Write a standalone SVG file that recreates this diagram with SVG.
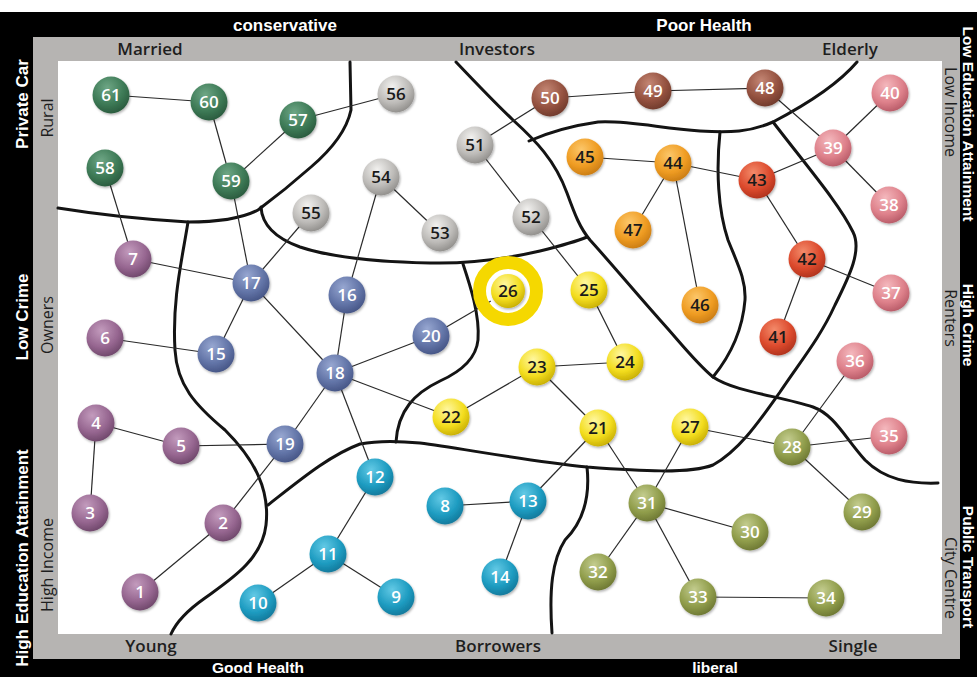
<svg xmlns="http://www.w3.org/2000/svg" width="977" height="677" viewBox="0 0 977 677">
<style>
.blk{font-family:"Liberation Sans",Arial,sans-serif;font-weight:bold;font-size:17px;fill:#fff;text-anchor:middle}
.blks{font-family:"Liberation Sans",Arial,sans-serif;font-weight:bold;font-size:15.5px;fill:#fff;text-anchor:middle}
.gry{font-family:"Open Sans","Noto Sans",sans-serif;font-weight:600;font-size:17px;fill:#1e1e1e;text-anchor:middle}
.gryr{font-family:"Open Sans","Noto Sans",sans-serif;font-weight:500;font-size:16px;fill:#1e1e1e;text-anchor:middle}
.bd{fill:none;stroke:#141414;stroke-width:3;stroke-linecap:round;stroke-linejoin:round}
.cn line{stroke:#2a2a2a;stroke-width:1.2}
.nd circle{stroke:none;filter:url(#sh)}
.nd text{font-family:"Open Sans","Noto Sans",sans-serif;font-weight:600;font-size:17px;text-anchor:middle;fill:#fff}
.dk text{fill:#1a1a1a}
.green circle{fill:url(#gGreen)}
.gray circle{fill:url(#gGray)}
.brown circle{fill:url(#gBrown)}
.orange circle{fill:url(#gOrange)}
.red circle{fill:url(#gRed)}
.pink circle{fill:url(#gPink)}
.purple circle{fill:url(#gPurple)}
.blue circle{fill:url(#gBlue)}
.cyan circle{fill:url(#gCyan)}
.yellow circle{fill:url(#gYellow)}
.olive circle{fill:url(#gOlive)}
</style>
<defs>
<filter id="sh" x="-30%" y="-30%" width="160%" height="160%"><feDropShadow dx="1" dy="1.5" stdDeviation="1.2" flood-color="#000" flood-opacity="0.3"/></filter>
<radialGradient id="gGreen" cx="0.4" cy="0.3" r="0.75"><stop offset="0" stop-color="#6ea685"/><stop offset="0.6" stop-color="#3d7a56"/><stop offset="1" stop-color="#28573b"/></radialGradient>
<radialGradient id="gGray" cx="0.4" cy="0.3" r="0.75"><stop offset="0" stop-color="#f2f1ef"/><stop offset="0.6" stop-color="#bdbbb8"/><stop offset="1" stop-color="#8c8a87"/></radialGradient>
<radialGradient id="gBrown" cx="0.4" cy="0.3" r="0.75"><stop offset="0" stop-color="#c48674"/><stop offset="0.6" stop-color="#955240"/><stop offset="1" stop-color="#6c382a"/></radialGradient>
<radialGradient id="gOrange" cx="0.4" cy="0.3" r="0.75"><stop offset="0" stop-color="#fcc76a"/><stop offset="0.6" stop-color="#ef9c22"/><stop offset="1" stop-color="#c67914"/></radialGradient>
<radialGradient id="gRed" cx="0.4" cy="0.3" r="0.75"><stop offset="0" stop-color="#f38a6a"/><stop offset="0.6" stop-color="#dc4a2d"/><stop offset="1" stop-color="#ab301b"/></radialGradient>
<radialGradient id="gPink" cx="0.4" cy="0.3" r="0.75"><stop offset="0" stop-color="#f4b8bd"/><stop offset="0.6" stop-color="#de818b"/><stop offset="1" stop-color="#b45764"/></radialGradient>
<radialGradient id="gPurple" cx="0.4" cy="0.3" r="0.75"><stop offset="0" stop-color="#c39bbd"/><stop offset="0.6" stop-color="#966690"/><stop offset="1" stop-color="#6b4467"/></radialGradient>
<radialGradient id="gBlue" cx="0.4" cy="0.3" r="0.75"><stop offset="0" stop-color="#97a7d1"/><stop offset="0.6" stop-color="#6274a7"/><stop offset="1" stop-color="#435282"/></radialGradient>
<radialGradient id="gCyan" cx="0.4" cy="0.3" r="0.75"><stop offset="0" stop-color="#62c9e5"/><stop offset="0.6" stop-color="#1e9cc1"/><stop offset="1" stop-color="#117597"/></radialGradient>
<radialGradient id="gYellow" cx="0.4" cy="0.3" r="0.75"><stop offset="0" stop-color="#fff7a0"/><stop offset="0.6" stop-color="#f3dd1e"/><stop offset="1" stop-color="#c4aa00"/></radialGradient>
<radialGradient id="gOlive" cx="0.4" cy="0.3" r="0.75"><stop offset="0" stop-color="#c3cc8e"/><stop offset="0.6" stop-color="#909d4b"/><stop offset="1" stop-color="#6a7431"/></radialGradient>
</defs>

<g id="frame">
<rect x="0" y="0" width="977" height="677" fill="#fff"/>
<rect x="0" y="12" width="977" height="665" fill="#000"/>
<rect x="33" y="37" width="927" height="622" fill="#b6b4b2"/>
<rect x="58" y="61" width="884" height="573" fill="#fff"/>
</g>

<g id="labels">
<text class="blk" x="285" y="31">conservative</text>
<text class="blk" x="704" y="31">Poor Health</text>
<text class="blks" x="258" y="673">Good Health</text>
<text class="blks" x="715" y="673">liberal</text>
<text class="gry" x="150" y="55">Married</text>
<text class="gry" x="497" y="55">Investors</text>
<text class="gry" x="850" y="55">Elderly</text>
<text class="gry" x="151" y="652">Young</text>
<text class="gry" x="498" y="652">Borrowers</text>
<text class="gry" x="853" y="652">Single</text>
<text class="blk" transform="translate(28,104) rotate(-90)">Private Car</text>
<text class="blk" transform="translate(28,317) rotate(-90)">Low Crime</text>
<text class="blk" transform="translate(28,558) rotate(-90)">High Education Attainment</text>
<text class="gryr" transform="translate(53,118) rotate(-90)">Rural</text>
<text class="gryr" transform="translate(53,325) rotate(-90)">Owners</text>
<text class="gryr" transform="translate(53,565) rotate(-90)">High Income</text>
<text class="gryr" transform="translate(945,112) rotate(90)">Low Income</text>
<text class="gryr" transform="translate(945,318) rotate(90)">Renters</text>
<text class="gryr" transform="translate(945,578) rotate(90)">City Centre</text>
<text class="blks" transform="translate(963,124) rotate(90)">Low Education Attainment</text>
<text class="blks" transform="translate(963,325) rotate(90)">High Crime</text>
<text class="blks" transform="translate(963,567) rotate(90)">Public Transport</text>
</g>

<g id="boundaries">
<path class="bd" d="M58,208 Q120,218 188,222 Q235,222 258,210 Q285,190 311,167 Q345,138 351,110 L350,62"/>
<path class="bd" d="M188,222 C182,260 172,300 175,350 C177,385 195,405 225,430 C255,460 270,490 266,525 C262,560 230,580 205,598 C185,612 175,625 171,634"/>
<path class="bd" d="M261,207 C262,225 275,238 300,247 C330,257 380,262 430,263 C470,264 510,258 540,251 C560,246 575,242 587,237"/>
<path class="bd" d="M463,264 C470,285 480,315 478,340 C476,360 460,372 440,381 C415,393 398,410 396,442"/>
<path class="bd" d="M268,505 C300,480 330,455 360,444 C380,440 400,441 420,443 C460,448 520,460 587,467 C640,471 690,474 713,465 C740,450 760,420 780,392 C800,362 820,338 835,305 C850,275 862,250 853,232 C840,205 810,170 773,122"/>
<path class="bd" d="M857,62 C840,82 815,100 773,122 C750,132 730,133 700,131 C660,128 625,120 598,122 C570,126 545,134 529,141"/>
<path class="bd" d="M720,132 C716,170 718,210 728,240 C738,265 746,280 745,300 C743,325 735,350 713,377"/>
<path class="bd" d="M456,62 C475,82 495,103 513,120 C535,140 555,160 567,193 C575,215 580,228 590,240 C610,262 635,292 660,320 C680,342 695,362 713,377 C735,392 780,396 813,407 C835,415 845,438 865,460 C885,480 910,484 938,483"/>
<path class="bd" d="M587,467 C590,495 585,520 565,540 C552,560 549,590 552,633"/>
</g>

<g class="cn" id="connectors">
<line x1="111" y1="95" x2="209" y2="102"/>
<line x1="209" y1="102" x2="231" y2="181"/>
<line x1="231" y1="181" x2="298" y2="120"/>
<line x1="298" y1="120" x2="396" y2="94"/>
<line x1="105" y1="168" x2="133" y2="259"/>
<line x1="231" y1="181" x2="251" y2="283"/>
<line x1="133" y1="259" x2="251" y2="283"/>
<line x1="251" y1="283" x2="311" y2="213"/>
<line x1="251" y1="283" x2="216" y2="354"/>
<line x1="251" y1="283" x2="335" y2="373"/>
<line x1="105" y1="338" x2="216" y2="354"/>
<line x1="381" y1="177" x2="347" y2="295"/>
<line x1="381" y1="177" x2="440" y2="233"/>
<line x1="347" y1="295" x2="335" y2="373"/>
<line x1="335" y1="373" x2="431" y2="336"/>
<line x1="431" y1="336" x2="508" y2="291"/>
<line x1="335" y1="373" x2="451" y2="417"/>
<line x1="335" y1="373" x2="285" y2="444"/>
<line x1="335" y1="373" x2="375" y2="477"/>
<line x1="451" y1="417" x2="537" y2="367"/>
<line x1="537" y1="367" x2="625" y2="362"/>
<line x1="537" y1="367" x2="598" y2="428"/>
<line x1="589" y1="290" x2="625" y2="362"/>
<line x1="531" y1="217" x2="589" y2="290"/>
<line x1="475" y1="145" x2="531" y2="217"/>
<line x1="475" y1="145" x2="550" y2="98"/>
<line x1="550" y1="98" x2="653" y2="91"/>
<line x1="653" y1="91" x2="765" y2="88"/>
<line x1="765" y1="88" x2="833" y2="148"/>
<line x1="833" y1="148" x2="890" y2="93"/>
<line x1="833" y1="148" x2="889" y2="205"/>
<line x1="833" y1="148" x2="757" y2="180"/>
<line x1="757" y1="180" x2="673" y2="163"/>
<line x1="673" y1="163" x2="585" y2="157"/>
<line x1="673" y1="163" x2="633" y2="230"/>
<line x1="673" y1="163" x2="700" y2="305"/>
<line x1="757" y1="180" x2="807" y2="259"/>
<line x1="807" y1="259" x2="778" y2="337"/>
<line x1="807" y1="259" x2="891" y2="293"/>
<line x1="96" y1="423" x2="181" y2="446"/>
<line x1="96" y1="423" x2="90" y2="513"/>
<line x1="181" y1="446" x2="285" y2="444"/>
<line x1="223" y1="523" x2="140" y2="592"/>
<line x1="223" y1="523" x2="285" y2="444"/>
<line x1="375" y1="477" x2="328" y2="554"/>
<line x1="328" y1="554" x2="258" y2="603"/>
<line x1="328" y1="554" x2="396" y2="597"/>
<line x1="445" y1="506" x2="528" y2="501"/>
<line x1="528" y1="501" x2="500" y2="577"/>
<line x1="528" y1="501" x2="598" y2="428"/>
<line x1="598" y1="428" x2="647" y2="503"/>
<line x1="690" y1="427" x2="647" y2="503"/>
<line x1="690" y1="427" x2="792" y2="447"/>
<line x1="792" y1="447" x2="855" y2="361"/>
<line x1="792" y1="447" x2="889" y2="436"/>
<line x1="792" y1="447" x2="862" y2="512"/>
<line x1="647" y1="503" x2="750" y2="532"/>
<line x1="647" y1="503" x2="598" y2="572"/>
<line x1="647" y1="503" x2="698" y2="597"/>
<line x1="698" y1="597" x2="826" y2="598"/>
</g>

<g id="highlight26"><circle cx="508" cy="291" r="28.5" fill="none" stroke="#f5d800" stroke-width="13"/><circle cx="508" cy="291" r="20" fill="#fff"/></g>

<g id="n1" class="nd purple"><circle cx="140" cy="592" r="18.5"/><text x="140" y="598">1</text></g>
<g id="n2" class="nd purple"><circle cx="223" cy="523" r="18.5"/><text x="223" y="529">2</text></g>
<g id="n3" class="nd purple"><circle cx="90" cy="513" r="18.5"/><text x="90" y="519">3</text></g>
<g id="n4" class="nd purple"><circle cx="96" cy="423" r="18.5"/><text x="96" y="429">4</text></g>
<g id="n5" class="nd purple"><circle cx="181" cy="446" r="18.5"/><text x="181" y="452">5</text></g>
<g id="n6" class="nd purple"><circle cx="105" cy="338" r="18.5"/><text x="105" y="344">6</text></g>
<g id="n7" class="nd purple"><circle cx="133" cy="259" r="18.5"/><text x="133" y="265">7</text></g>
<g id="n8" class="nd cyan"><circle cx="445" cy="506" r="18.5"/><text x="445" y="512">8</text></g>
<g id="n9" class="nd cyan"><circle cx="396" cy="597" r="18.5"/><text x="396" y="603">9</text></g>
<g id="n10" class="nd cyan"><circle cx="258" cy="603" r="18.5"/><text x="258" y="609">10</text></g>
<g id="n11" class="nd cyan"><circle cx="328" cy="554" r="18.5"/><text x="328" y="560">11</text></g>
<g id="n12" class="nd cyan"><circle cx="375" cy="477" r="18.5"/><text x="375" y="483">12</text></g>
<g id="n13" class="nd cyan"><circle cx="528" cy="501" r="18.5"/><text x="528" y="507">13</text></g>
<g id="n14" class="nd cyan"><circle cx="500" cy="577" r="18.5"/><text x="500" y="583">14</text></g>
<g id="n15" class="nd blue"><circle cx="216" cy="354" r="18.5"/><text x="216" y="360">15</text></g>
<g id="n16" class="nd blue"><circle cx="347" cy="295" r="18.5"/><text x="347" y="301">16</text></g>
<g id="n17" class="nd blue"><circle cx="251" cy="283" r="18.5"/><text x="251" y="289">17</text></g>
<g id="n18" class="nd blue"><circle cx="335" cy="373" r="18.5"/><text x="335" y="379">18</text></g>
<g id="n19" class="nd blue"><circle cx="285" cy="444" r="18.5"/><text x="285" y="450">19</text></g>
<g id="n20" class="nd blue"><circle cx="431" cy="336" r="18.5"/><text x="431" y="342">20</text></g>
<g id="n21" class="nd yellow dk"><circle cx="598" cy="428" r="18.5"/><text x="598" y="434">21</text></g>
<g id="n22" class="nd yellow dk"><circle cx="451" cy="417" r="18.5"/><text x="451" y="423">22</text></g>
<g id="n23" class="nd yellow dk"><circle cx="537" cy="367" r="18.5"/><text x="537" y="373">23</text></g>
<g id="n24" class="nd yellow dk"><circle cx="625" cy="362" r="18.5"/><text x="625" y="368">24</text></g>
<g id="n25" class="nd yellow dk"><circle cx="589" cy="290" r="18.5"/><text x="589" y="296">25</text></g>
<g id="n26" class="nd yellow dk"><circle cx="508" cy="291" r="17"/><text x="508" y="297">26</text></g>
<g id="n27" class="nd yellow dk"><circle cx="690" cy="427" r="18.5"/><text x="690" y="433">27</text></g>
<g id="n28" class="nd olive"><circle cx="792" cy="447" r="18.5"/><text x="792" y="453">28</text></g>
<g id="n29" class="nd olive"><circle cx="862" cy="512" r="18.5"/><text x="862" y="518">29</text></g>
<g id="n30" class="nd olive"><circle cx="750" cy="532" r="18.5"/><text x="750" y="538">30</text></g>
<g id="n31" class="nd olive"><circle cx="647" cy="503" r="18.5"/><text x="647" y="509">31</text></g>
<g id="n32" class="nd olive"><circle cx="598" cy="572" r="18.5"/><text x="598" y="578">32</text></g>
<g id="n33" class="nd olive"><circle cx="698" cy="597" r="18.5"/><text x="698" y="603">33</text></g>
<g id="n34" class="nd olive"><circle cx="826" cy="598" r="18.5"/><text x="826" y="604">34</text></g>
<g id="n35" class="nd pink"><circle cx="889" cy="436" r="18.5"/><text x="889" y="442">35</text></g>
<g id="n36" class="nd pink"><circle cx="855" cy="361" r="18.5"/><text x="855" y="367">36</text></g>
<g id="n37" class="nd pink"><circle cx="891" cy="293" r="18.5"/><text x="891" y="299">37</text></g>
<g id="n38" class="nd pink"><circle cx="889" cy="205" r="18.5"/><text x="889" y="211">38</text></g>
<g id="n39" class="nd pink"><circle cx="833" cy="148" r="18.5"/><text x="833" y="154">39</text></g>
<g id="n40" class="nd pink"><circle cx="890" cy="93" r="18.5"/><text x="890" y="99">40</text></g>
<g id="n41" class="nd red dk"><circle cx="778" cy="337" r="18.5"/><text x="778" y="343">41</text></g>
<g id="n42" class="nd red dk"><circle cx="807" cy="259" r="18.5"/><text x="807" y="265">42</text></g>
<g id="n43" class="nd red dk"><circle cx="757" cy="180" r="18.5"/><text x="757" y="186">43</text></g>
<g id="n44" class="nd orange dk"><circle cx="673" cy="163" r="18.5"/><text x="673" y="169">44</text></g>
<g id="n45" class="nd orange dk"><circle cx="585" cy="157" r="18.5"/><text x="585" y="163">45</text></g>
<g id="n46" class="nd orange dk"><circle cx="700" cy="305" r="18.5"/><text x="700" y="311">46</text></g>
<g id="n47" class="nd orange dk"><circle cx="633" cy="230" r="18.5"/><text x="633" y="236">47</text></g>
<g id="n48" class="nd brown"><circle cx="765" cy="88" r="18.5"/><text x="765" y="94">48</text></g>
<g id="n49" class="nd brown"><circle cx="653" cy="91" r="18.5"/><text x="653" y="97">49</text></g>
<g id="n50" class="nd brown"><circle cx="550" cy="98" r="18.5"/><text x="550" y="104">50</text></g>
<g id="n51" class="nd gray dk"><circle cx="475" cy="145" r="18.5"/><text x="475" y="151">51</text></g>
<g id="n52" class="nd gray dk"><circle cx="531" cy="217" r="18.5"/><text x="531" y="223">52</text></g>
<g id="n53" class="nd gray dk"><circle cx="440" cy="233" r="18.5"/><text x="440" y="239">53</text></g>
<g id="n54" class="nd gray dk"><circle cx="381" cy="177" r="18.5"/><text x="381" y="183">54</text></g>
<g id="n55" class="nd gray dk"><circle cx="311" cy="213" r="18.5"/><text x="311" y="219">55</text></g>
<g id="n56" class="nd gray dk"><circle cx="396" cy="94" r="18.5"/><text x="396" y="100">56</text></g>
<g id="n57" class="nd green"><circle cx="298" cy="120" r="18.5"/><text x="298" y="126">57</text></g>
<g id="n58" class="nd green"><circle cx="105" cy="168" r="18.5"/><text x="105" y="174">58</text></g>
<g id="n59" class="nd green"><circle cx="231" cy="181" r="18.5"/><text x="231" y="187">59</text></g>
<g id="n60" class="nd green"><circle cx="209" cy="102" r="18.5"/><text x="209" y="108">60</text></g>
<g id="n61" class="nd green"><circle cx="111" cy="95" r="18.5"/><text x="111" y="101">61</text></g>
</svg>
